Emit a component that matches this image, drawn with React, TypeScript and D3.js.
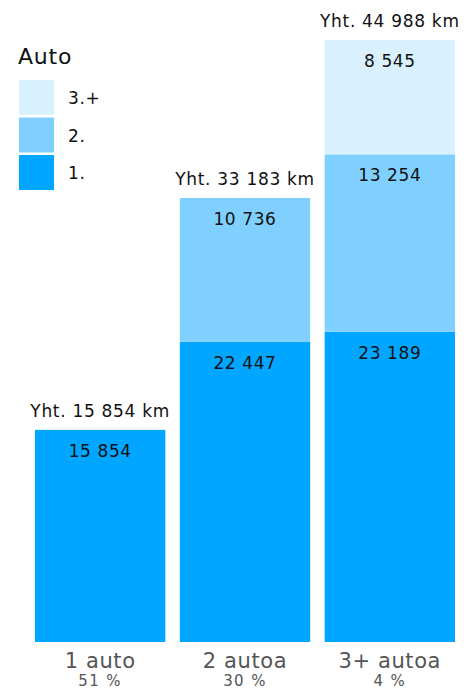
import React from "react";
import * as d3 from "d3";

const categories = ["1 auto", "2 autoa", "3+ autoa"];
const shares = ["51 %", "30 %", "4 %"];
const seriesNames = ["1.", "2.", "3.+"];
const series1 = [15854, 22447, 23189];
const series2 = [0, 10736, 13254];
const series3 = [0, 0, 8545];
const totals = [15854, 33183, 44988];
const colors = ["#00a6ff", "#80d0ff", "#d9f0ff"];

const W = 464;
const H = 690;
const FONT = "'DejaVu Sans', Verdana, sans-serif";

const fmt = (v: number) => d3.format(",")(v).replace(/,/g, " ");

export default function App() {
  const x = d3.scaleBand<string>().domain(categories).range([35, 455]).paddingInner(0.1).paddingOuter(0);
  const y = d3.scaleLinear().domain([0, 44988]).range([642, 40]);

  const rows = categories.map((c, i) => ({ cat: c, s0: series1[i], s1: series2[i], s2: series3[i] }));
  const stack = d3.stack<any>().keys(["s0", "s1", "s2"]);
  const layers = stack(rows);

  return (
    <svg width={W} height={H} style={{ position: "absolute", left: 0, top: 0, fontFamily: FONT }}>
      {layers.map((layer, li) =>
        layer.map((d, i) => {
          const v = d[1] - d[0];
          if (v <= 0) return null;
          const x0 = x(categories[i])!;
          const top = y(d[1]);
          return (
            <g key={`${li}-${i}`}>
              <rect x={x0} y={top} width={x.bandwidth()} height={y(d[0]) - top} fill={colors[li]} />
              <text x={x0 + x.bandwidth() / 2} y={top + 27} textAnchor="middle" fontSize={17} letterSpacing={0.6} fill="#111">
                {fmt(v)}
              </text>
            </g>
          );
        })
      )}
      {totals.map((t, i) => (
        <text key={`t${i}`} x={x(categories[i])! + x.bandwidth() / 2} y={y(t) - 13} textAnchor="middle" fontSize={17} letterSpacing={0.7} fill="#111">
          {`Yht. ${fmt(t)} km`}
        </text>
      ))}
      {categories.map((c, i) => (
        <g key={`c${i}`}>
          <text x={x(c)! + x.bandwidth() / 2} y={668} textAnchor="middle" fontSize={21} letterSpacing={0.6} fill="#555">
            {c}
          </text>
          <text x={x(c)! + x.bandwidth() / 2} y={686} textAnchor="middle" fontSize={15} letterSpacing={1.4} fill="#555">
            {shares[i]}
          </text>
        </g>
      ))}
      <text x={18} y={64} fontSize={22} letterSpacing={0.8} fill="#111">Auto</text>
      {[2, 1, 0].map((si, k) => (
        <g key={`l${si}`}>
          <rect x={19} y={80 + k * 37.5} width={35} height={35} fill={colors[si]} />
          <text x={68} y={80 + k * 37.5 + 24} fontSize={17} letterSpacing={0.6} fill="#111">
            {seriesNames[si]}
          </text>
        </g>
      ))}
    </svg>
  );
}
